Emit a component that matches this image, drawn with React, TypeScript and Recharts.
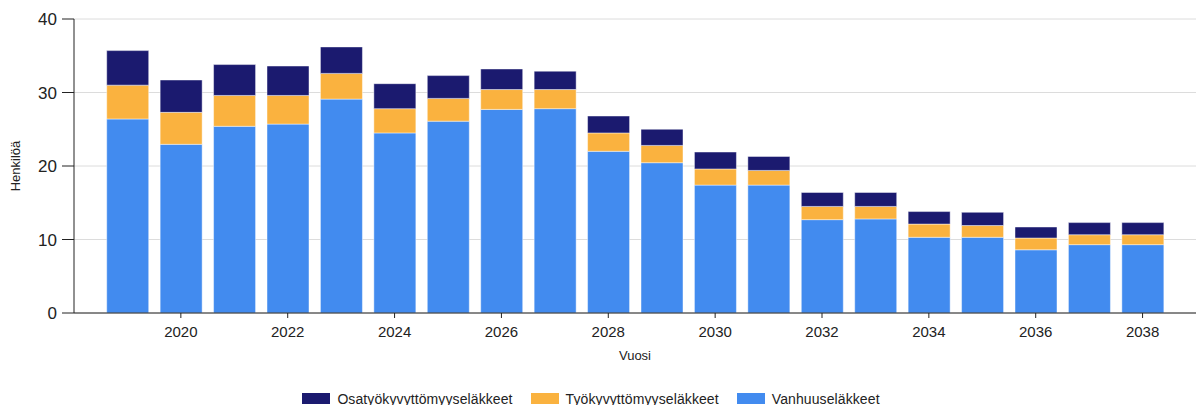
import React from 'react';
import { BarChart, Bar, XAxis, YAxis, CartesianGrid, Legend } from 'recharts';

const years = [2019, 2020, 2021, 2022, 2023, 2024, 2025, 2026, 2027, 2028, 2029, 2030, 2031, 2032, 2033, 2034, 2035, 2036, 2037, 2038];
const vanhuus = [26.4, 22.95, 25.4, 25.7, 29.1, 24.5, 26.1, 27.7, 27.8, 22.0, 20.45, 17.4, 17.4, 12.7, 12.8, 10.3, 10.3, 8.6, 9.3, 9.3];
const tyokyvyttomyys = [4.6, 4.35, 4.2, 3.9, 3.5, 3.3, 3.1, 2.7, 2.6, 2.5, 2.35, 2.2, 2.0, 1.8, 1.7, 1.8, 1.6, 1.6, 1.35, 1.35];
const osatyokyvyttomyys = [4.7, 4.4, 4.2, 4.0, 3.6, 3.4, 3.1, 2.8, 2.5, 2.3, 2.2, 2.3, 1.9, 1.9, 1.9, 1.7, 1.8, 1.5, 1.65, 1.65];

const xTicks = [2020, 2022, 2024, 2026, 2028, 2030, 2032, 2034, 2036, 2038];
const yTicks = [0, 10, 20, 30, 40];

// bottom of the stack first
const series = [
  { key: 'vanhuus', name: 'Vanhuuseläkkeet', color: '#428BEF' },
  { key: 'tyo', name: 'Työkyvyttömyyseläkkeet', color: '#FAB23F' },
  { key: 'osatyo', name: 'Osatyökyvyttömyyseläkkeet', color: '#1B1A6F' },
];

const data = years.map((year, i) => ({
  year,
  vanhuus: vanhuus[i],
  tyo: tyokyvyttomyys[i],
  osatyo: osatyokyvyttomyys[i],
}));

const FONT = '"Liberation Sans", Arial, sans-serif';

function LegendContent() {
  const items = [...series].reverse();
  return (
    <div style={{ height: 42, boxSizing: 'border-box', paddingTop: 29, paddingRight: 14, display: 'flex', justifyContent: 'center', fontFamily: FONT, fontSize: 14, color: '#222' }}>
      {items.map(s => (
        <div key={s.key} style={{ display: 'flex', alignItems: 'center', margin: '0 9px', lineHeight: '14px' }}>
          <span style={{ display: 'inline-block', width: 28, height: 11, background: s.color, marginRight: 7 }} />
          <span style={{ letterSpacing: 0.1 }}>{s.name}</span>
        </div>
      ))}
    </div>
  );
}

function YLabel({ viewBox }: any) {
  const x = viewBox.x + 15;
  const y = viewBox.y + viewBox.height / 2;
  return (
    <text x={x} y={y} transform={`rotate(-90, ${x}, ${y})`} textAnchor="middle" dominantBaseline="central" fontSize={13} fill="#222" fontFamily={FONT}>
      Henkilöä
    </text>
  );
}

function XLabel({ viewBox }: any) {
  const x = viewBox.x + viewBox.width / 2;
  return (
    <text x={x} y={viewBox.y + 47} textAnchor="middle" fontSize={13} fill="#222" fontFamily={FONT}>
      Vuosi
    </text>
  );
}

export default function App() {
  return (
    <div style={{ position: 'absolute', left: 0, top: 0, background: '#fff' }}>
      <BarChart width={1196} height={405} data={data} margin={{ top: 19, right: 0, left: 0, bottom: 0 }}>
        <CartesianGrid vertical={false} stroke="#dcdcdc" />
        <XAxis
          dataKey="year"
          type="number"
          domain={[2018, 2039]}
          ticks={xTicks}
          height={50}
          tickSize={5}
          tickMargin={8}
          stroke="#222"
          tick={{ fontSize: 15, fill: '#222', fontFamily: FONT }}
          label={<XLabel />}
        />
        <YAxis
          domain={[0, 40]}
          ticks={yTicks}
          width={74}
          tickSize={12}
          tickMargin={5}
          stroke="#222"
          tick={{ fontSize: 17, fill: '#222', fontFamily: FONT }}
          label={<YLabel />}
        />
        <Legend verticalAlign="bottom" content={<LegendContent />} />
        {series.map(s => (
          <Bar
            key={s.key}
            dataKey={s.key}
            name={s.name}
            stackId="a"
            fill={s.color}
            barSize={42}
            stroke="#ffffff"
            strokeOpacity={0.45}
            strokeWidth={1}
            isAnimationActive={false}
          />
        ))}
      </BarChart>
    </div>
  );
}
